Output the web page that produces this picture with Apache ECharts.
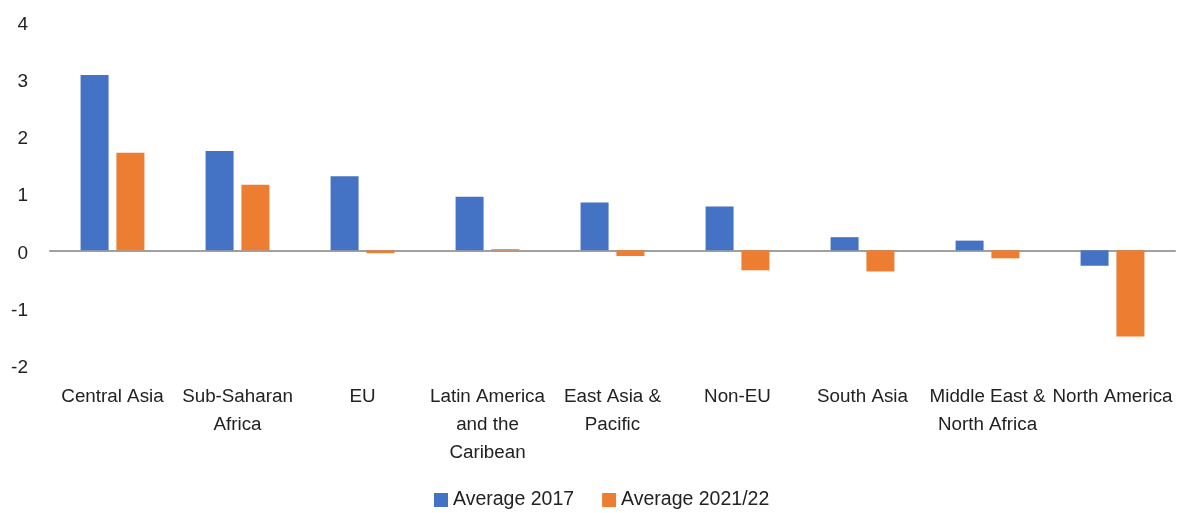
<!DOCTYPE html>
<html>
<head>
<meta charset="utf-8">
<script src="https://cdn.jsdelivr.net/npm/echarts@6/dist/echarts.min.js"></script>
<style>
  html, body { margin: 0; padding: 0; background: #fff; }
  #chart { width: 1180px; height: 513px; }
</style>
</head>
<body>
<div id="chart"></div>
<script>
// categories and values
var categories = ['Central Asia', 'Sub-Saharan\nAfrica', 'EU', 'Latin America\nand the\nCaribean',
  'East Asia &\nPacific', 'Non-EU', 'South Asia', 'Middle East &\nNorth Africa', 'North America'];
var avg2017 = [3.07, 1.74, 1.30, 0.94, 0.84, 0.77, 0.23, 0.17, -0.27];
var avg2021 = [1.71, 1.15, -0.05, 0.02, -0.10, -0.35, -0.37, -0.14, -1.51];
var yTicks = [-2, -1, 0, 1, 2, 3, 4];

var font = 'Liberation Sans, Arial, sans-serif';
var chart = echarts.init(document.getElementById('chart'));

chart.setOption({
    animation: false,
    textStyle: { fontFamily: font },
    grid: { left: 50, right: 5, top: 22, bottom: 148.5, containLabel: false },
    legend: {
        bottom: -2,
        left: 429,
        itemWidth: 14,
        itemHeight: 14,
        itemGap: 28,
        icon: 'rect',
        textStyle: { fontSize: 19.5, color: '#222', fontFamily: font },
        data: ['Average 2017', 'Average 2021/22']
    },
    xAxis: [
        {
            type: 'category',
            data: categories,
            position: 'bottom',
            axisLine: { show: false, onZero: false },
            axisTick: { show: false },
            axisLabel: {
                margin: 18,
                fontSize: 18.8,
                lineHeight: 28,
                color: '#222',
                interval: 0
            }
        },
        {
            // zero line only
            type: 'category',
            data: categories,
            position: 'bottom',
            axisLine: { show: true, onZero: true, lineStyle: { color: '#a0a0a0', width: 2 } },
            axisTick: { show: false },
            axisLabel: { show: false }
        }
    ],
    yAxis: {
        type: 'value',
        min: yTicks[0],
        max: yTicks[yTicks.length - 1],
        interval: 1,
        splitLine: { show: false },
        axisLine: { show: false },
        axisTick: { show: false },
        axisLabel: {
            margin: 22,
            formatter: function (v) { return '{t|' + v + '}'; },
            rich: { t: { fontSize: 19, color: '#222', padding: [6, 0, 0, 0] } }
        }
    },
    series: [
        {
            name: 'Average 2017',
            type: 'bar',
            data: avg2017,
            barWidth: '22.4%',
            barGap: '28%',
            itemStyle: { color: '#4472c4' }
        },
        {
            name: 'Average 2021/22',
            type: 'bar',
            data: avg2021,
            barWidth: '22.4%',
            itemStyle: { color: '#ed7d31' }
        }
    ]
});
</script>
</body>
</html>
